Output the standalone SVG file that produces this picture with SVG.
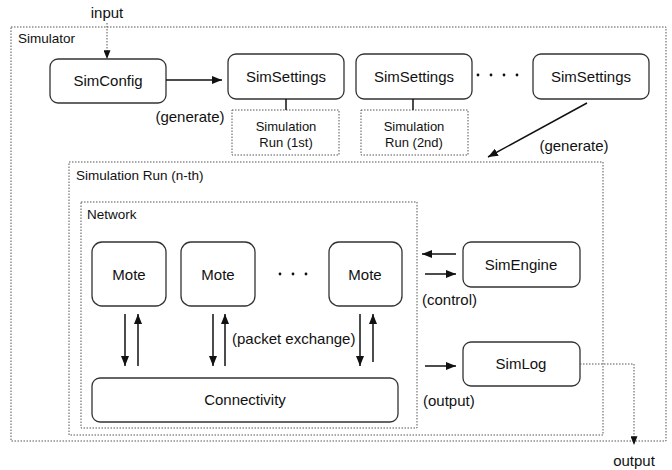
<svg xmlns="http://www.w3.org/2000/svg" width="672" height="470" viewBox="0 0 672 470">
<style>
text{font-family:"Liberation Sans",Arial,sans-serif;fill:#111}
.box{fill:#fff;stroke:#333;stroke-width:1.3}
.dot{fill:none;stroke:#555;stroke-width:1;stroke-dasharray:1.5 1.5}
.ln{fill:none;stroke:#111;stroke-width:1.5}
.l15{font-size:15px}
.l13{font-size:13.5px}
.mid{text-anchor:middle}
</style>
<defs>
<marker id="ah" viewBox="0 0 10 8" refX="10" refY="4" markerWidth="10" markerHeight="8" markerUnits="userSpaceOnUse" orient="auto">
<path d="M0,0 L10,4 L0,8 z" fill="#111"/>
</marker>
<marker id="ahs" viewBox="0 0 10 8" refX="10" refY="4" markerWidth="9" markerHeight="7" markerUnits="userSpaceOnUse" orient="auto">
<path d="M0,0 L10,4 L0,8 z" fill="#111"/>
</marker>
</defs>

<g id="simulator">
<rect class="dot" x="11" y="27" width="655" height="414"/>
<text class="l13" x="18" y="43">Simulator</text>
</g>

<g id="simulation-run-nth">
<rect class="dot" x="69" y="162" width="534" height="273"/>
<text class="l13" x="76" y="180">Simulation Run (n-th)</text>
</g>

<g id="network">
<rect class="dot" x="81" y="202" width="336" height="226"/>
<text class="l13" x="87" y="219">Network</text>
</g>

<g id="simconfig">
<rect class="box" x="50" y="59" width="116" height="44" rx="8"/>
<text class="l15 mid" x="108" y="86">SimConfig</text>
</g>
<g id="simsettings1">
<rect class="box" x="228" y="54" width="116" height="45" rx="8"/>
<text class="l15 mid" x="286" y="82">SimSettings</text>
</g>
<g id="simsettings2">
<rect class="box" x="356" y="54" width="116" height="45" rx="8"/>
<text class="l15 mid" x="414" y="82">SimSettings</text>
</g>
<g id="simsettings3">
<rect class="box" x="533" y="54" width="116" height="45" rx="8"/>
<text class="l15 mid" x="591" y="82">SimSettings</text>
</g>
<g id="dots-settings" fill="#111">
<circle cx="478" cy="75" r="1.4"/><circle cx="491" cy="75" r="1.4"/><circle cx="504" cy="75" r="1.4"/><circle cx="517" cy="75" r="1.4"/>
</g>

<g id="run1">
<rect class="dot" x="232" y="110" width="107" height="45"/>
<text class="mid" font-size="13" x="286" y="131">Simulation</text>
<text class="mid" font-size="13" x="286" y="147">Run (1st)</text>
</g>
<g id="run2">
<rect class="dot" x="361" y="110" width="107" height="45"/>
<text class="mid" font-size="13" x="414" y="131">Simulation</text>
<text class="mid" font-size="13" x="414" y="147">Run (2nd)</text>
</g>

<g id="mote1">
<rect class="box" x="92" y="242" width="74" height="64" rx="10"/>
<text class="l15 mid" x="129" y="280">Mote</text>
</g>
<g id="mote2">
<rect class="box" x="181" y="242" width="74" height="64" rx="10"/>
<text class="l15 mid" x="218" y="280">Mote</text>
</g>
<g id="mote3">
<rect class="box" x="329" y="242" width="73" height="64" rx="10"/>
<text class="l15 mid" x="365" y="280">Mote</text>
</g>
<g id="dots-motes" fill="#111">
<circle cx="280" cy="274" r="1.4"/><circle cx="293" cy="274" r="1.4"/><circle cx="306" cy="274" r="1.4"/>
</g>

<g id="connectivity">
<rect class="box" x="92" y="378" width="306" height="44" rx="8"/>
<text class="l15 mid" x="245" y="405">Connectivity</text>
</g>

<g id="simengine">
<rect class="box" x="463" y="242" width="117" height="45" rx="8"/>
<text class="l15 mid" x="521" y="270">SimEngine</text>
</g>

<g id="simlog">
<rect class="box" x="463" y="342" width="117" height="44" rx="8"/>
<text class="l15 mid" x="521" y="369">SimLog</text>
</g>

<g id="connectors">
<line class="dot" x1="107" y1="23" x2="107" y2="59" marker-end="url(#ahs)"/>
<line class="ln" x1="166" y1="80" x2="222" y2="80" marker-end="url(#ah)"/>
<line class="ln" x1="286" y1="99" x2="286" y2="110" stroke-width="1.2"/>
<line class="ln" x1="413" y1="99" x2="413" y2="110" stroke-width="1.2"/>
<line class="ln" x1="587" y1="103" x2="488" y2="157" stroke-width="1.2" marker-end="url(#ah)"/>

<line class="ln" x1="125" y1="314" x2="125" y2="366" marker-end="url(#ah)"/>
<line class="ln" x1="138" y1="366" x2="138" y2="314" marker-end="url(#ah)"/>
<line class="ln" x1="213" y1="314" x2="213" y2="366" marker-end="url(#ah)"/>
<line class="ln" x1="225" y1="366" x2="225" y2="314" marker-end="url(#ah)"/>
<line class="ln" x1="360" y1="314" x2="360" y2="366" marker-end="url(#ah)"/>
<line class="ln" x1="373" y1="362" x2="373" y2="314" marker-end="url(#ah)"/>

<line class="ln" x1="456" y1="254" x2="422" y2="254" marker-end="url(#ah)"/>
<line class="ln" x1="425" y1="274" x2="456" y2="274" marker-end="url(#ah)"/>
<line class="ln" x1="425" y1="366" x2="456" y2="366" marker-end="url(#ah)"/>

<polyline class="dot" points="580,364 634,364 634,445" marker-end="url(#ahs)"/>
</g>

<g id="labels">
<text class="l15 mid" x="107" y="18">input</text>
<text class="l15 mid" x="190" y="122">(generate)</text>
<text class="l15 mid" x="574" y="151">(generate)</text>
<text class="l15" x="232" y="344">(packet exchange)</text>
<text class="l15" x="422" y="305">(control)</text>
<text class="l15" x="423" y="406">(output)</text>
<text class="l15 mid" x="634" y="466">output</text>
</g>
</svg>
